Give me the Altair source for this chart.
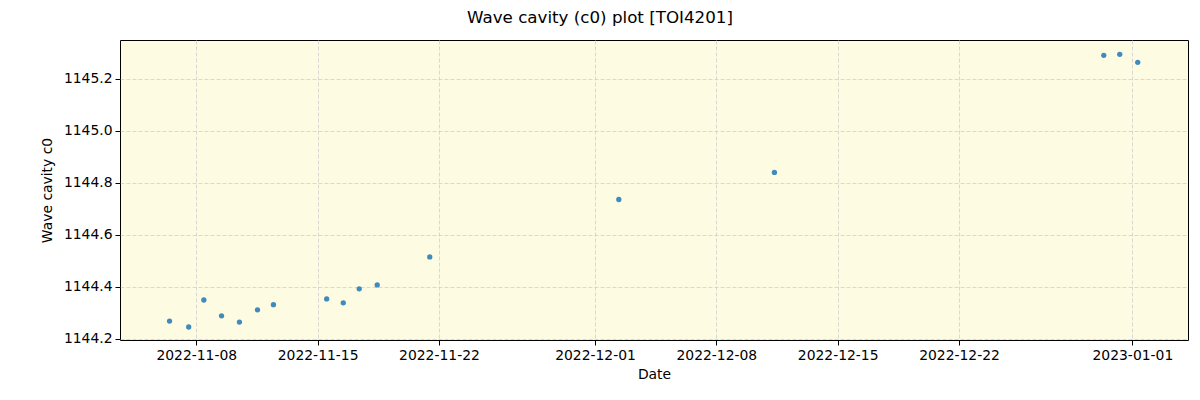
import altair as alt
import pandas as pd

dates = [
    "2022-11-06T11:00", "2022-11-07T13:30", "2022-11-08T10:30", "2022-11-09T11:00",
    "2022-11-10T11:45", "2022-11-11T12:45", "2022-11-12T10:50", "2022-11-15T12:30",
    "2022-11-16T11:30", "2022-11-17T09:35", "2022-11-18T10:30", "2022-11-21T11:15",
    "2022-12-02T09:00", "2022-12-11T08:25", "2022-12-30T08:25", "2022-12-31T06:30",
    "2023-01-01T07:25",
]
c0 = [
    1144.268, 1144.245, 1144.349, 1144.288, 1144.264, 1144.311, 1144.331, 1144.353,
    1144.338, 1144.392, 1144.407, 1144.515, 1144.736, 1144.840, 1145.291, 1145.295,
    1145.264,
]
tick_dates = [(2022, 11, 8), (2022, 11, 15), (2022, 11, 22), (2022, 12, 1),
              (2022, 12, 8), (2022, 12, 15), (2022, 12, 22), (2023, 1, 1)]
y_ticks = [1144.2, 1144.4, 1144.6, 1144.8, 1145.0, 1145.2]

df = pd.DataFrame({"date": dates, "c0": c0})

font = "DejaVu Sans"
grid_color = "#cfcfcf"

chart = alt.Chart(df).mark_circle(size=28, color="#1f77b4", opacity=0.85).encode(
    x=alt.X(
        "date:T",
        title="Date",
        scale=alt.Scale(domain=[
            alt.DateTime(year=2022, month=11, date=3, hours=14, minutes=24),
            alt.DateTime(year=2023, month=1, date=4, hours=5),
        ]),
        axis=alt.Axis(
            values=[alt.DateTime(year=y, month=m, date=d) for (y, m, d) in tick_dates],
            format="%Y-%m-%d",
            labelAngle=0,
        ),
    ),
    y=alt.Y(
        "c0:Q",
        title="Wave cavity c0",
        scale=alt.Scale(domain=[1144.195, 1145.35], nice=False, zero=False),
        axis=alt.Axis(values=y_ticks, format=".1f"),
    ),
).properties(
    width=1068,
    height=300,
    autosize=alt.AutoSizeParams(type="none"),
    padding={"left": 120, "top": 40, "right": 12, "bottom": 60},
    title=alt.TitleParams(
        "Wave cavity (c0) plot [TOI4201]",
        anchor="middle",
        dx=-54,
        offset=13,
        fontSize=16.7,
        font=font,
        fontWeight="normal",
        color="black",
    ),
).configure_view(
    fill="#fdfce2",
    stroke="black",
    strokeWidth=1,
).configure_axis(
    labelFont=font,
    titleFont=font,
    labelFontSize=13.9,
    titleFontSize=13.9,
    titleFontWeight="normal",
    labelColor="black",
    titleColor="black",
    tickColor="black",
    tickSize=5,
    domain=False,
    grid=True,
    gridColor=grid_color,
    gridDash=[4, 2],
    gridWidth=0.8,
    labelPadding=3,
).configure_axisY(
    titlePadding=9,
).configure_axisX(
    titlePadding=6,
)

chart.save("out.html", embed_options={"renderer": "svg", "actions": False})
